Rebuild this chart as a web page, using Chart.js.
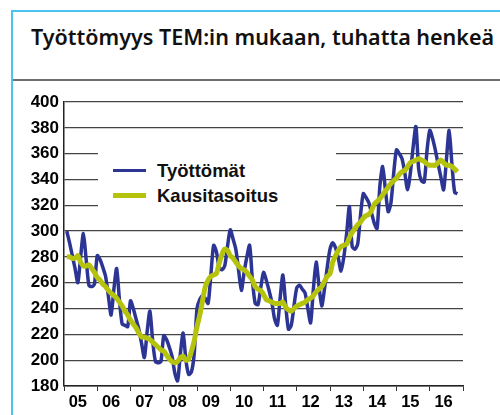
<!DOCTYPE html>
<html>
<head>
<meta charset="utf-8">
<script src="https://cdn.jsdelivr.net/npm/chart.js@4.4.1/dist/chart.umd.min.js"></script>
<style>
  body { margin: 0; width: 500px; height: 415px; overflow: hidden; position: relative; background: #fff; }
  #frame { position: absolute; left: 11px; top: 10px; width: 600px; height: 500px;
           border-left: 2px solid #4cc3f1; border-top: 2px solid #4cc3f1; }
  #title { position: absolute; left: 31px; top: 22px; font: 600 21.5px "Noto Sans", sans-serif;
           color: #111; white-space: nowrap; }
  #sep { position: absolute; left: 13px; top: 79px; width: 600px; height: 2px; background: #6e6e6e; }
  #wrap { position: absolute; left: 0; top: 0; width: 500px; height: 415px; }
  #legend { position: absolute; left: 98px; top: 141px; width: 238px; height: 76px; background: #fff;
            padding-top: 17px; box-sizing: border-box; }
  .row { height: 25px; position: relative; font: bold 18.5px "Liberation Sans", Arial, sans-serif; color: #111; }
  .sw { position: absolute; left: 15px; width: 33px; }
  .lbl { position: absolute; left: 59px; top: 0; line-height: 25px; }
</style>
</head>
<body>
<div id="frame"></div>
<div id="title">Työttömyys TEM:in mukaan, tuhatta henkeä</div>
<div id="sep"></div>
<div id="wrap"><canvas id="chart"></canvas></div>
<div id="legend"></div>
<script>
// monthly data, Jan 2005 - Oct 2016 (thousands)
const yearLabels = ["05", "06", "07", "08", "09", "10", "11", "12", "13", "14", "15", "16"];

const tyottomat = [
  300, 291, 281, 271, 260, 280, 298, 278, 258, 257, 259, 281,
  278, 272, 265, 250, 235, 255, 271, 247, 228, 227, 226, 246,
  240, 232, 224, 213, 202, 222, 238, 215, 199, 198, 199, 219,
  216, 210, 203, 190, 184, 205, 221, 200, 189, 191, 205, 240,
  247, 250, 248, 244, 266, 289, 284, 272, 270, 273, 288, 301,
  294, 286, 270, 254, 268, 280, 289, 262, 244, 243, 256, 268,
  262, 254, 245, 232, 227, 248, 266, 243, 224, 227, 242, 256,
  258, 255, 252, 240, 229, 255, 276, 258, 242, 255, 272, 286,
  291, 287, 279, 269, 280, 298, 319, 288, 286, 290, 312, 329,
  326, 322, 314, 306, 302, 335, 350, 332, 315, 322, 345, 363,
  360, 356, 345, 332, 345, 365, 381, 348, 339, 338, 362, 378,
  372, 363, 352, 342, 332, 355, 378, 352, 330, 329
];

const kausitasoitus = [
  280, 280, 279, 279, 281, 276, 273, 273, 274, 271, 268, 264,
  262, 259, 257, 254, 252, 250, 248, 245, 242, 238, 235, 231,
  228, 225, 221, 218, 218, 217, 216, 214, 212, 210, 208, 207,
  204, 201, 199, 198, 199, 202, 203, 200, 201, 207, 215, 226,
  235, 246, 257, 262, 265, 266, 267, 275, 282, 286, 285, 281,
  279, 276, 273, 271, 270, 268, 265, 262, 257, 255, 254, 251,
  247, 246, 245, 244, 244, 244, 245, 241, 239, 238, 240, 242,
  243, 244, 245, 247, 248, 250, 253, 255, 257, 261, 265, 267,
  276, 281, 285, 288, 289, 290, 295, 299, 302, 305, 307, 310,
  312, 313, 316, 321, 323, 325, 328, 331, 334, 337, 339, 341,
  344, 346, 347, 350, 353, 354, 355, 356, 355, 354, 352, 351,
  351, 351, 353, 355, 353, 351, 351, 350, 348, 346
];

const yMin = 180, yMax = 400, yStep = 20;

// point i is the end of month i
const toPoints = arr => arr.map((v, i) => ({ x: i + 1, y: v }));

const chart = new Chart(document.getElementById("chart"), {
  type: "line",
  data: {
    datasets: [
      { label: "Työttömät", data: toPoints(tyottomat), borderColor: "#2c3593", borderWidth: 3.5,
        pointRadius: 0, tension: 0.25, order: 1 },
      { label: "Kausitasoitus", data: toPoints(kausitasoitus), borderColor: "#b6c30d", borderWidth: 5,
        pointRadius: 0, tension: 0.3, order: 0 }
    ]
  },
  options: {
    responsive: true,
    maintainAspectRatio: false,
    devicePixelRatio: 1,
    animation: false,
    layout: { padding: { left: 0, right: 37, top: 102, bottom: 0 } },
    plugins: { legend: { display: false }, tooltip: { enabled: false } },
    scales: {
      x: {
        type: "linear", min: 0, max: yearLabels.length * 12,
        afterFit: s => { s.height = 29; },
        afterBuildTicks: s => {
          const t = [];
          yearLabels.forEach((y, k) => { t.push({ value: k * 12 }); t.push({ value: k * 12 + 5 }); });
          t.push({ value: yearLabels.length * 12 });
          s.ticks = t;
        },
        ticks: {
          autoSkip: false, maxRotation: 0, padding: 2, color: "#000",
          font: { family: "Liberation Sans", size: 16.5, weight: "bold" },
          callback: v => (v % 12 === 5 ? yearLabels[(v - 5) / 12] : "")
        },
        grid: { drawOnChartArea: false, drawTicks: true, tickLength: 5,
                tickColor: ctx => (ctx.tick && ctx.tick.value % 12 === 0 ? "#333" : "rgba(0,0,0,0)") },
        border: { color: "#222", width: 1.5 }
      },
      y: {
        min: yMin, max: yMax,
        afterFit: s => { s.width = 64; },
        ticks: { stepSize: yStep, padding: 5, color: "#000",
                 font: { family: "Liberation Sans", size: 17, weight: "bold" } },
        grid: { color: "#444", lineWidth: 1.2, drawTicks: false },
        border: { color: "#222", width: 1.5 }
      }
    }
  }
});

// legend box sits on the plot and hides the grid lines behind it
const legend = document.getElementById("legend");
chart.data.datasets.forEach(ds => {
  const row = document.createElement("div");
  row.className = "row";
  const sw = document.createElement("div");
  sw.className = "sw";
  sw.style.height = ds.borderWidth + "px";
  sw.style.top = (12.5 - ds.borderWidth / 2) + "px";
  sw.style.background = ds.borderColor;
  const lbl = document.createElement("span");
  lbl.className = "lbl";
  lbl.textContent = ds.label;
  row.appendChild(sw);
  row.appendChild(lbl);
  legend.appendChild(row);
});
</script>
</body>
</html>
